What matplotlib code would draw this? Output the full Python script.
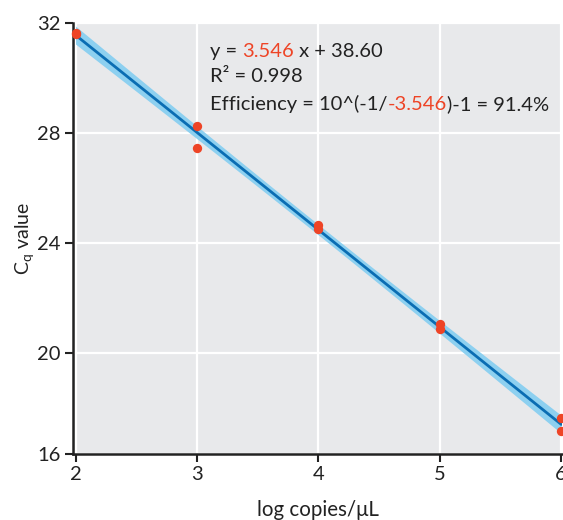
import numpy as np
import matplotlib.pyplot as plt

log_copies = [2, 2, 3, 3, 4, 4, 5, 5, 6, 6]
cq_values = [31.63, 31.60, 28.25, 27.44, 24.64, 24.49, 21.02, 20.84, 17.61, 17.16]

y_tick_labels = ['16', '20', '24', '28', '32']
x_ticks = [2, 3, 4, 5, 6]

eq_parts = [('y = ', '#222222'), ('3.546', '#EE4426'), (' x + 38.60', '#222222')]
r2_parts = [('R\u00b2 = 0.998', '#222222')]
eff_parts = [('Efficiency = 10^(-1/', '#222222'), ('-3.546', '#EE4426'), (')-1 = 91.4%', '#222222')]

plt.rcParams['font.family'] = ['Lato', 'DejaVu Sans']
plt.rcParams['mathtext.fontset'] = 'custom'
plt.rcParams['mathtext.rm'] = 'Lato'
plt.rcParams['mathtext.it'] = 'Lato:italic'


def colored_line(ax, parts, x, y, size):
    # place pieces of text one after another, each in its own colour
    prev = None
    for s, c in parts:
        if prev is None:
            prev = ax.text(x, y, s, color=c, fontsize=size, transform=ax.transAxes,
                           ha='left', va='bottom')
        else:
            prev = ax.annotate(s, xy=(1, 0), xycoords=prev, color=c, fontsize=size,
                               ha='left', va='bottom')
    return prev


def main():
    x = np.array(log_copies, dtype=float)
    y = np.array(cq_values)

    slope, intercept = np.polyfit(x, y, 1)
    n = len(x)
    resid = y - (slope * x + intercept)
    s = np.sqrt(np.sum(resid ** 2) / (n - 2))
    xs = np.linspace(2, 6, 100)
    fit = slope * xs + intercept
    se = s * np.sqrt(1 / n + (xs - x.mean()) ** 2 / np.sum((x - x.mean()) ** 2))
    band = 2.306 * se  # 95% confidence band

    fig = plt.figure(figsize=(5.63, 5.20), dpi=100)
    ax = fig.add_axes([0.1297, 0.1275, 0.8685, 0.8292])
    ax.set_facecolor('#E8E9EB')

    ax.fill_between(xs, fit - band, fit + band, color='#8DD0F0', lw=0, zorder=2)
    ax.plot(xs, fit, color='#0A6DB3', lw=2.0, zorder=3)
    ax.scatter(x, y, s=45, color='#EE4426', zorder=4, clip_on=False, linewidths=0)

    y_lo = 16.32
    ax.set_xlim(1.979, 6.008)
    ax.set_ylim(y_lo, 32)
    ax.set_xticks(x_ticks)
    ax.set_xticklabels([str(t) for t in x_ticks])
    ax.set_yticks([y_lo, 20, 24, 28, 32])
    ax.set_yticklabels(y_tick_labels)

    ax.grid(True, color='white', lw=1.6)
    ax.set_axisbelow(True)
    for side in ['top', 'right']:
        ax.spines[side].set_visible(False)
    for side in ['left', 'bottom']:
        ax.spines[side].set_linewidth(1.8)
        ax.spines[side].set_color('#222222')
    ax.tick_params(axis='both', length=6, width=1.5, color='#222222',
                   labelsize=14.5, labelcolor='#222222', pad=3)

    ax.set_xlabel('log copies/\u03bcL', fontsize=14.8, color='#222222', labelpad=12)
    ax.set_ylabel('C$_\\mathrm{q}$ value', fontsize=14, color='#222222', labelpad=1)

    colored_line(ax, eq_parts, 0.280, 0.913, 14.5)
    colored_line(ax, r2_parts, 0.280, 0.855, 14.5)
    colored_line(ax, eff_parts, 0.280, 0.790, 14.5)

    fig.savefig('out.png', dpi=100)


if __name__ == '__main__':
    main()
